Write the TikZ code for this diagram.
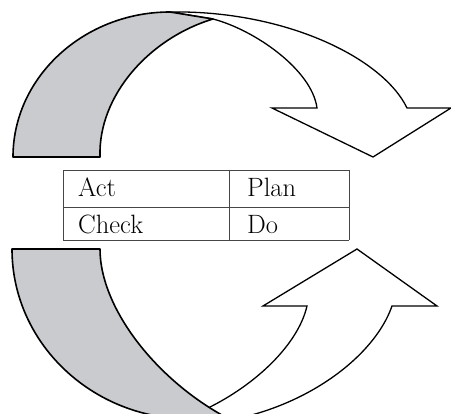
\documentclass[tikz,border=0pt]{standalone}
\definecolor{bandgrey}{RGB}{201,203,207}
\definecolor{tablegrey}{RGB}{70,70,70}
\tikzset{
  band/.style={fill=bandgrey,draw=black,line width=1.6pt,line join=round},
  arrowshape/.style={fill=white,draw=black,line width=1.3pt,line join=miter},
  gridline/.style={draw=tablegrey,line width=0.8pt},
  celltext/.style={anchor=base west,inner sep=0pt,font=\fontsize{26.5}{30}\selectfont}
}
\begin{document}
\begin{tikzpicture}[x=1pt,y=-1pt]
\useasboundingbox (0,0) rectangle (451,414);
\clip (0,0) rectangle (451,414);
% ---------- top: white arrow pointing down ----------
\coordinate (t1) at (170,12);
\coordinate (t2) at (407,108);
\coordinate (t3) at (451,108);
\coordinate (t4) at (373,157);
\coordinate (t5) at (272,108);
\coordinate (t6) at (317,108);
\coordinate (t7) at (213,19);
\filldraw[arrowshape] (t1) .. controls (285,10) and (383,58) .. (t2)
  -- (t3) -- (t4) -- (t5) -- (t6)
  .. controls (312,70) and (255,30) .. (t7) -- cycle;
% ---------- top: grey band ----------
\coordinate (g1) at (13,157);
\coordinate (g2) at (100,157);
\filldraw[band] (g1) .. controls (13,77) and (84,12) .. (t1)
  -- (t7)
  .. controls (150,38) and (98,95) .. (g2) -- cycle;
% ---------- bottom: white arrow pointing up ----------
\coordinate (u1) at (307,306);
\coordinate (u2) at (263,306);
\coordinate (u3) at (357,249);
\coordinate (u4) at (437,306);
\coordinate (u5) at (392,306);
\coordinate (u6) at (208,408);
\coordinate (u7) at (185,424);
\coordinate (u8) at (230,420);
\filldraw[arrowshape] (u7) -- (u6) .. controls (255,385) and (298,345) .. (u1)
  -- (u2) -- (u3) -- (u4) -- (u5)
  .. controls (375,355) and (310,405) .. (u8) -- cycle;
% ---------- bottom: grey band ----------
\coordinate (h1) at (12,249);
\coordinate (h2) at (100,249);
\coordinate (h3) at (235,422);
\coordinate (h4) at (190,419);
\filldraw[band] (h1) -- (h2)
  .. controls (100,310) and (160,385) .. (h3)
  -- (h4)
  .. controls (92,419) and (12,343) .. (h1) -- cycle;
% ---------- table ----------
\coordinate (tl) at (63,170);
\coordinate (tr) at (349,170);
\coordinate (ml) at (63,207);
\coordinate (mr) at (349,207);
\coordinate (bl) at (63,240);
\coordinate (br) at (349,240);
\coordinate (tm) at (229,170);
\coordinate (bm) at (229,240);
\draw[gridline] (tl) -- (tr) (ml) -- (mr) (bl) -- (br)
  (tl) -- (bl) (tm) -- (bm) (tr) -- (br);
\node[celltext] (act) at (78,197) {Act};
\node[celltext] (plan) at (247,197) {Plan};
\node[celltext] (check) at (78,234) {Check};
\node[celltext] (do) at (247,234) {Do};
\end{tikzpicture}
\end{document}
